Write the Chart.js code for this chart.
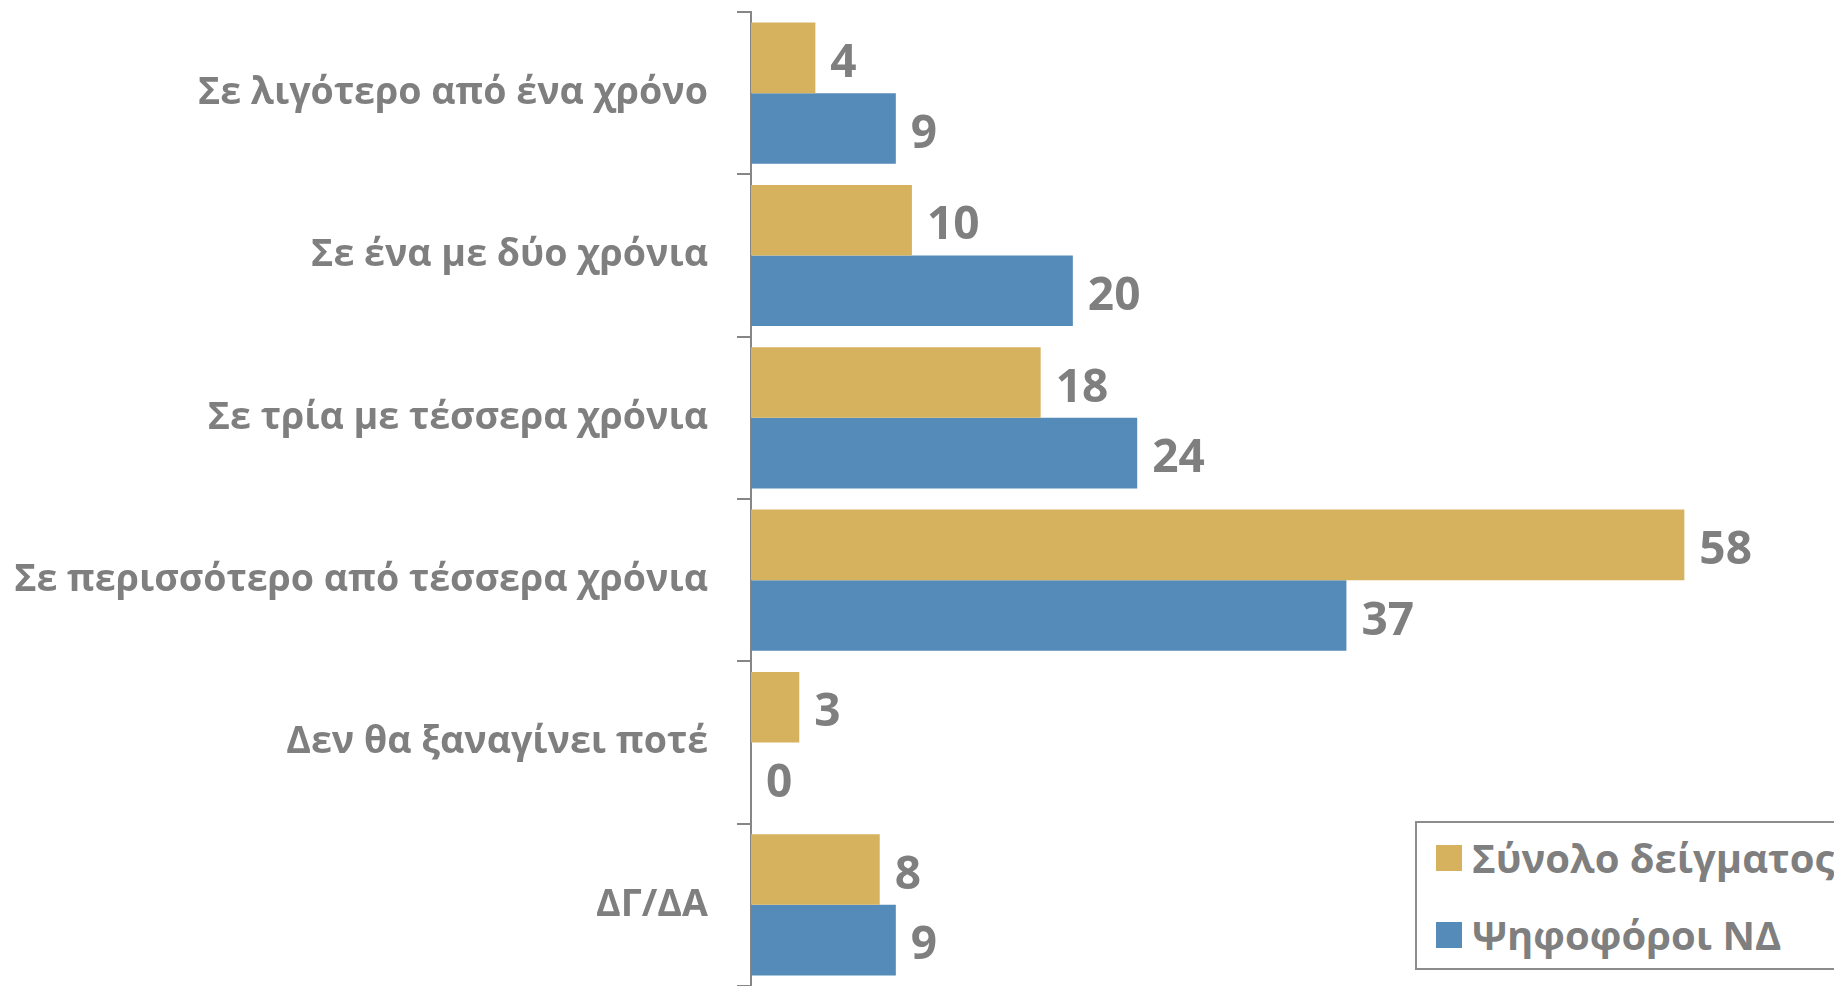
<!DOCTYPE html>
<html>
<head>
<meta charset="utf-8">
<script src="https://cdn.jsdelivr.net/npm/chart.js@4/dist/chart.umd.min.js"></script>
<style>
  html, body { margin: 0; padding: 0; background: #ffffff; }
  #wrap { position: relative; width: 1834px; height: 986px; overflow: hidden; }
  #legend {
    position: absolute; left: 1415px; top: 821px; width: 460px; height: 149px;
    border: 2px solid #8C8C8C; background: #ffffff; box-sizing: border-box;
    font-family: 'Open Sans', sans-serif; font-weight: bold; font-size: 40px; color: #7F7F7F;
  }
  .item { position: absolute; left: 19px; display: flex; align-items: center; white-space: nowrap; line-height: 1.2; }
  .sw { width: 26px; height: 26px; margin-right: 10px; flex: none; }
</style>
</head>
<body>
<div id="wrap">
  <canvas id="c" width="1834" height="986"></canvas>
  <div id="legend"></div>
</div>
<script>
const categories = [
  "Σε λιγότερο από ένα χρόνο",
  "Σε ένα με δύο χρόνια",
  "Σε τρία με τέσσερα χρόνια",
  "Σε περισσότερο από τέσσερα χρόνια",
  "Δεν θα ξαναγίνει ποτέ",
  "ΔΓ/ΔΑ"
];
const seriesNames = ["Σύνολο δείγματος", "Ψηφοφόροι ΝΔ"];
const totalSample = [4, 10, 18, 58, 3, 8];
const ndVoters = [9, 20, 24, 37, 0, 9];

const colors = ["#D7B25E", "#548BB9"];
const textGray = "#7F7F7F";
const axisGray = "#868686";

const valueLabels = {
  id: 'valueLabels',
  afterDatasetsDraw(chart) {
    const ctx = chart.ctx;
    ctx.save();
    ctx.font = "bold 46px 'Open Sans'";
    ctx.fillStyle = textGray;
    ctx.textAlign = 'left';
    ctx.textBaseline = 'middle';
    chart.data.datasets.forEach((ds, di) => {
      const meta = chart.getDatasetMeta(di);
      meta.data.forEach((bar, i) => {
        ctx.fillText(String(ds.data[i]), bar.x + 15, bar.y + 6);
      });
    });
    ctx.restore();
  }
};

const chart = new Chart(document.getElementById('c'), {
  type: 'bar',
  data: {
    labels: categories,
    datasets: [
      { label: seriesNames[0], data: totalSample, backgroundColor: colors[0] },
      { label: seriesNames[1], data: ndVoters, backgroundColor: colors[1] }
    ]
  },
  options: {
    indexAxis: 'y',
    responsive: false,
    animation: false,
    layout: { autoPadding: false, padding: { top: 12, right: 0, bottom: 0, left: 0 } },
    datasets: { bar: { categoryPercentage: 0.87, barPercentage: 1.0 } },
    plugins: { legend: { display: false }, tooltip: { enabled: false } },
    scales: {
      x: { display: false, min: 0, max: 67.3 },
      y: {
        offset: true,
        afterFit(scale) { scale.width = 751; scale.paddingTop = 0; scale.paddingBottom = 0; },
        grid: { offset: true, drawOnChartArea: false, drawTicks: true, tickLength: 14, color: axisGray, lineWidth: 2 },
        border: { display: true, color: axisGray, width: 2 },
        ticks: {
          color: textGray,
          padding: 29,
          font: { family: "'Open Sans'", size: 37.6, weight: 'bold', lineHeight: 1.3 }
        }
      }
    }
  },
  plugins: [valueLabels]
});

// HTML legend built from the datasets
const legend = document.getElementById('legend');
chart.data.datasets.forEach((ds, i) => {
  const it = document.createElement('div');
  it.className = 'item';
  it.style.top = (i === 0 ? 11 : 88) + 'px';
  const sw = document.createElement('span');
  sw.className = 'sw';
  sw.style.background = ds.backgroundColor;
  const tx = document.createElement('span');
  tx.textContent = ds.label;
  it.appendChild(sw); it.appendChild(tx);
  legend.appendChild(it);
});
</script>
</body>
</html>
